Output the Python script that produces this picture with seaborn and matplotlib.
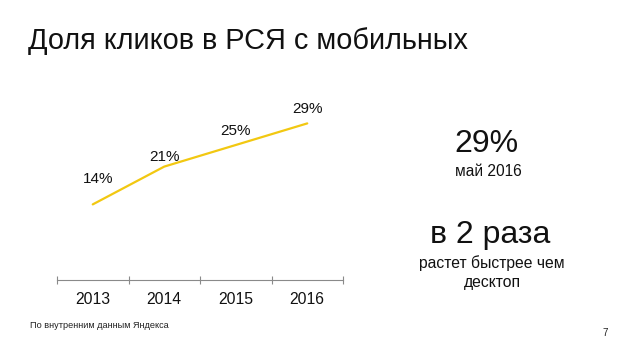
import numpy as np
import pandas as pd
import matplotlib
matplotlib.use("Agg")
import matplotlib.pyplot as plt
import seaborn as sns

# данные
years = ["2013", "2014", "2015", "2016"]
share = [14, 21, 25, 29]
labels = ["14%", "21%", "25%", "29%"]

title = "Доля кликов в РСЯ с мобильных"
source = "По внутренним данным Яндекса"

sns.set_style("white")
plt.rcParams["font.family"] = ["Liberation Sans", "DejaVu Sans"]

yellow = "#F2C811"
grey = "#8a8a8a"

fig = plt.figure(figsize=(6.38, 3.59), dpi=100)
ax = fig.add_axes([57 / 638, (359 - 280) / 359, 286 / 638, 189 / 359])

df = pd.DataFrame({"year": years, "share": share})
sns.lineplot(data=df, x="year", y="share", color=yellow, linewidth=1.6, ax=ax,
             solid_joinstyle="round", solid_capstyle="round")

# подписи значений (сдвиг в пикселях)
offsets = [(5, 25), (0, 10), (0, 14), (0, 14)]
for i, (lab, v) in enumerate(zip(labels, share)):
    dx, dy = offsets[i]
    ax.annotate(lab, (i, v), xytext=(dx * 0.72, dy * 0.72), textcoords="offset points",
                ha="center", va="center", fontsize=11, color="#111111")

ax.set_xlim(-0.5, len(years) - 0.5)
ax.set_ylim(0, 35)
ax.set_xlabel("")
ax.set_ylabel("")
ax.set_yticks([])
ax.set_xticks(np.arange(len(years) + 1) - 0.5)
ax.set_xticklabels([])
ax.set_xticks(np.arange(len(years)), minor=True)
ax.set_xticklabels(years, minor=True, fontsize=11.3, color="#111111")
ax.tick_params(axis="x", which="major", bottom=True, direction="inout", length=6, width=0.8, color=grey)
ax.tick_params(axis="x", which="minor", bottom=True, length=0, pad=9)
for s in ["top", "right", "left"]:
    ax.spines[s].set_visible(False)
ax.spines["bottom"].set_color(grey)
ax.spines["bottom"].set_linewidth(0.8)

fig.text(28 / 638, 1 - 41 / 359, title, fontsize=20.8, va="center", ha="left", color="#111111")

fig.text(486 / 638, 1 - 144 / 359, "29%", fontsize=23, ha="center", va="center", color="#111111")
fig.text(488 / 638, 1 - 172 / 359, "май 2016", fontsize=11.2, ha="center", va="center", color="#111111")
fig.text(490 / 638, 1 - 235 / 359, "в 2 раза", fontsize=23, ha="center", va="center", color="#111111")
fig.text(492 / 638, 1 - 263 / 359, "растет быстрее чем", fontsize=11.3, ha="center", va="center", color="#111111")
fig.text(492 / 638, 1 - 282 / 359, "десктоп", fontsize=11.3, ha="center", va="center", color="#111111")

fig.text(30 / 638, 1 - 325 / 359, source, fontsize=6.6, ha="left", va="center", color="#222222")
fig.text(605 / 638, 1 - 333 / 359, "7", fontsize=7, ha="center", va="center", color="#222222")

fig.savefig("out.png", dpi=100)
